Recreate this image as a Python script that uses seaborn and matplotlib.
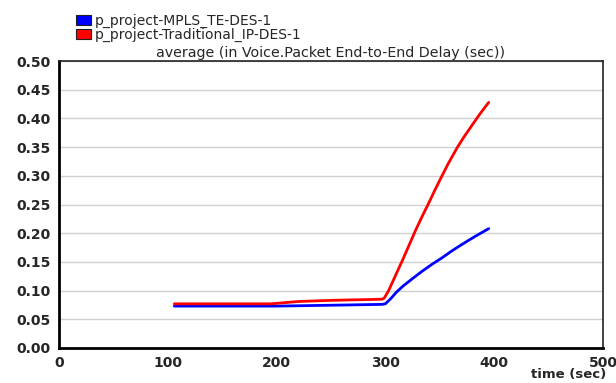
import pandas as pd
import matplotlib
matplotlib.use("Agg")
import matplotlib.pyplot as plt
from matplotlib.patches import Patch
import seaborn as sns

# ----------------------------
# DATA
# ----------------------------
mpls_time = [106, 150, 200, 250, 297, 300, 305, 310, 316, 325, 334, 343, 352, 361, 370, 383, 395]
mpls_delay = [0.073, 0.073, 0.073, 0.0745, 0.076, 0.077, 0.086, 0.097, 0.1075, 0.121, 0.134,
              0.146, 0.157, 0.169, 0.180, 0.195, 0.208]

ip_time = [106, 150, 195, 220, 250, 297, 299, 303, 309, 316, 322, 328, 334, 340, 345, 351,
           358, 366, 372, 380, 387, 395]
ip_delay = [0.077, 0.077, 0.077, 0.081, 0.083, 0.085, 0.087, 0.100, 0.125, 0.154, 0.180,
            0.206, 0.230, 0.253, 0.273, 0.296, 0.322, 0.349, 0.367, 0.389, 0.408, 0.428]

series_names = ["p_project-MPLS_TE-DES-1", "p_project-Traditional_IP-DES-1"]
series_colors = ["#0000ff", "#ff0000"]

y_ticks = [0.00, 0.05, 0.10, 0.15, 0.20, 0.25, 0.30, 0.35, 0.40, 0.45, 0.50]
x_ticks = [0, 100, 200, 300, 400, 500]

df = pd.concat([
    pd.DataFrame({"time": mpls_time, "delay": mpls_delay, "scenario": series_names[0]}),
    pd.DataFrame({"time": ip_time, "delay": ip_delay, "scenario": series_names[1]}),
])

# ----------------------------
# PLOT
# ----------------------------
sns.set_style("white")
plt.rcParams["font.family"] = ["DejaVu Sans"]

fig = plt.figure(figsize=(6.16, 3.83), dpi=100)
ax = fig.add_axes([0.0958, 0.0914, 0.883, 0.7493])

sns.lineplot(data=df, x="time", y="delay", hue="scenario", palette=series_colors,
             linewidth=2, legend=False, ax=ax)

ax.set_xlim(0, 500)
ax.set_ylim(0, 0.5)
ax.set_xticks(x_ticks)
ax.set_yticks(y_ticks)
ax.set_xticklabels([str(t) for t in x_ticks], fontsize=10, fontweight="bold")
ax.set_yticklabels([f"{t:.2f}" for t in y_ticks], fontsize=10, fontweight="bold")
ax.yaxis.grid(True, color="#d0d0d0", linewidth=1)
ax.xaxis.grid(False)
ax.tick_params(axis="both", direction="out", length=4, width=1.2, color="black", pad=2)

for side in ["left", "bottom"]:
    ax.spines[side].set_linewidth(2)
    ax.spines[side].set_color("black")
for side in ["top", "right"]:
    ax.spines[side].set_linewidth(1.2)
    ax.spines[side].set_color("#222222")

ax.set_xlabel("")
ax.set_ylabel("")
ax.set_title("average (in Voice.Packet End-to-End Delay (sec))", fontsize=10.3, pad=3)
fig.text(0.984, 0.004, "time (sec)", ha="right", va="bottom", fontsize=9.5, fontweight="bold")

handles = [Patch(facecolor=c, edgecolor="#202020", linewidth=0.8) for c in series_colors]
fig.legend(handles, series_names, loc="upper left", bbox_to_anchor=(0.123, 0.964),
           frameon=False, prop={"size": 10, "weight": "normal"},
           handlelength=1.1, handleheight=0.65, borderpad=0,
           handletextpad=0.3, labelspacing=0.0, borderaxespad=0)

fig.savefig("out.png", dpi=100)
